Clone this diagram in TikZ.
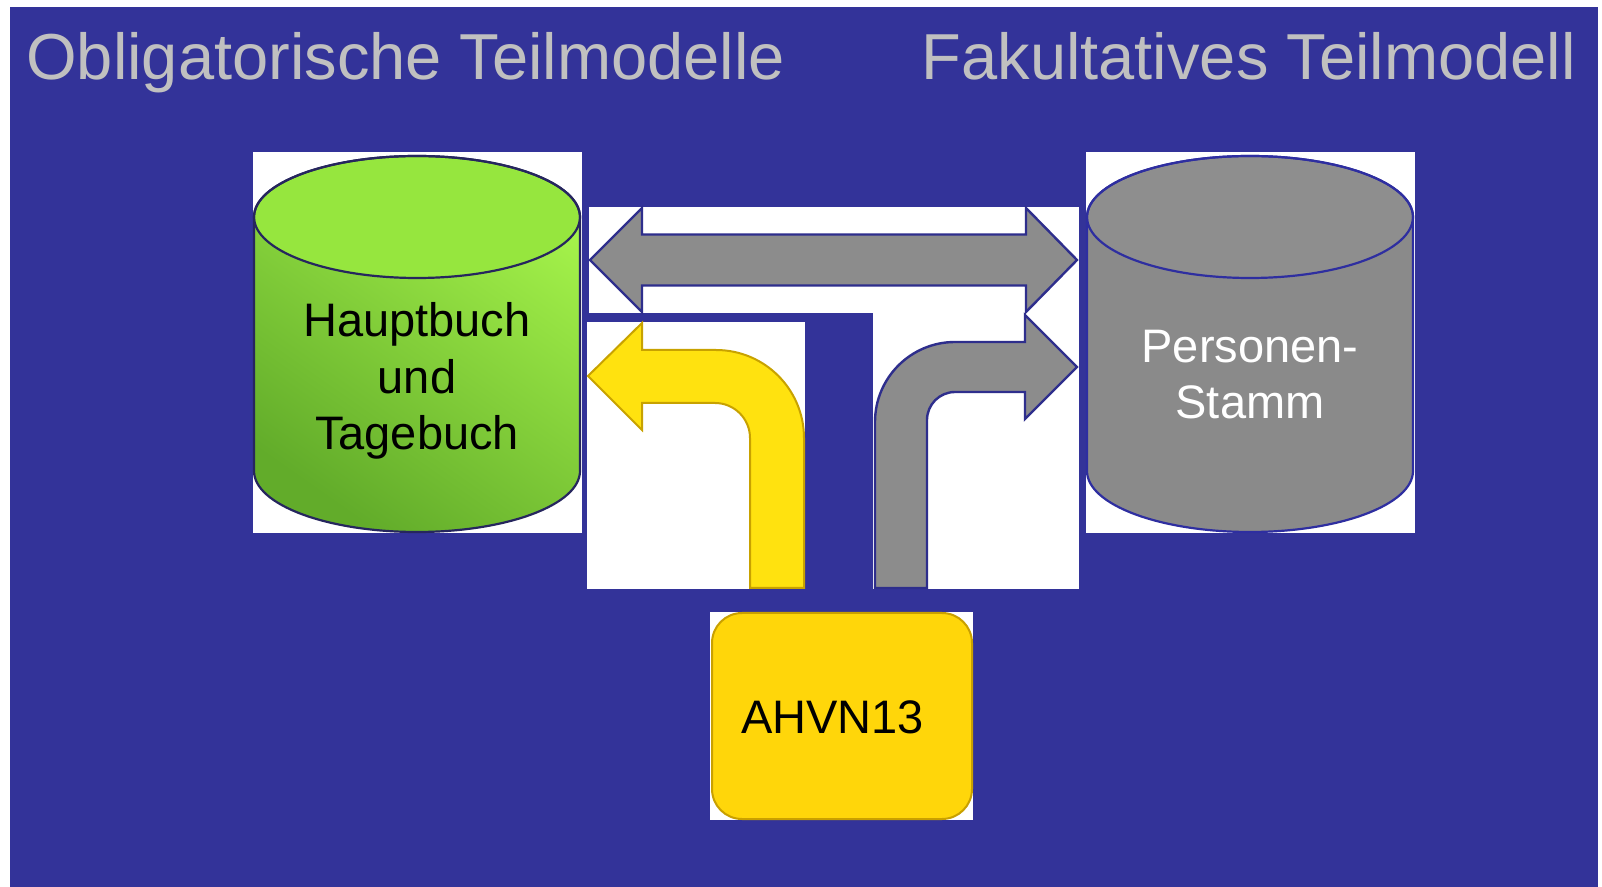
\documentclass[tikz,border=0pt]{standalone}
\usepackage{fontspec}
\setmainfont{Liberation Sans}
\definecolor{bgblue}{HTML}{333399}
\definecolor{titlegray}{HTML}{C0C0C0}
\definecolor{grnlight}{HTML}{A4F24A}
\definecolor{grndark}{HTML}{62AC2A}
\definecolor{grntop}{HTML}{96E63E}
\definecolor{grnline}{HTML}{26265E}
\definecolor{cylgray}{HTML}{8A8A8A}
\definecolor{cyltop}{HTML}{8E8E8E}
\definecolor{cylline}{HTML}{2E2EA0}
\definecolor{arrgray}{HTML}{8C8C8C}
\definecolor{arrline}{HTML}{2E2E8C}
\definecolor{arryel}{HTML}{FFE20F}
\definecolor{arryelline}{HTML}{C8A200}
\definecolor{boxyel}{HTML}{FFD60A}
\definecolor{boxline}{HTML}{C9A000}
\tikzset{
  titletext/.style={text=titlegray, font=\fontsize{32.5}{39}\selectfont, inner sep=0pt},
  cyltext/.style={font=\fontsize{23.5}{28.25}\selectfont, inner sep=0pt, align=center},
  whitebg/.style={fill=white},
  cylout/.style={line width=1.1pt},
  grayarrow/.style={fill=arrgray, draw=arrline, line width=1.2pt, line join=miter},
  yelarrow/.style={fill=arryel, draw=arryelline, line width=1pt, line join=miter},
}
\begin{document}
\begin{tikzpicture}[x=0.5pt,y=-0.5pt]
\useasboundingbox (0,0) rectangle (1602,887);
\fill[white] (0,0) rectangle (1602,887);
\fill[bgblue] (10,7) rectangle (1598,887);

% titles
\node[titletext, anchor=base west] (title1) at (26,80) {Obligatorische Teilmodelle};
\node[titletext, anchor=base east] (title2) at (1576,80) {Fakultatives Teilmodell};

% white picture backgrounds
\fill[whitebg] (253,152) rectangle (582,533);
\fill[whitebg] (1086,152) rectangle (1415,533);
\fill[whitebg] (589,207) rectangle (1079,313);
\fill[whitebg] (873,300) rectangle (1079,589);
\fill[whitebg] (587,322) rectangle (805,589);
\fill[whitebg] (710,612) rectangle (973,820);

% left cylinder (green)
\shade[top color=grnlight, bottom color=grndark, shading angle=-35]
  (254,217) -- (254,471) arc[start angle=180,end angle=360,x radius=81.5pt,y radius=30.5pt]
  -- (580,217) arc[start angle=0,end angle=180,x radius=81.5pt,y radius=30.5pt] -- cycle;
\fill[grntop] (417,217) ellipse[x radius=81.5pt, y radius=30.5pt];
\draw[cylout, grnline]
  (254,217) -- (254,471) arc[start angle=180,end angle=360,x radius=81.5pt,y radius=30.5pt]
  -- (580,217) arc[start angle=0,end angle=180,x radius=81.5pt,y radius=30.5pt] -- cycle;
\draw[cylout, grnline] (417,217) ellipse[x radius=81.5pt, y radius=30.5pt];
\node[cyltext, text=black] (hauptbuch) at (417,381) {Hauptbuch\\und\\Tagebuch};

% right cylinder (gray)
\fill[cylgray]
  (1087,217) -- (1087,471) arc[start angle=180,end angle=360,x radius=81.5pt,y radius=30.5pt]
  -- (1413,217) arc[start angle=0,end angle=180,x radius=81.5pt,y radius=30.5pt] -- cycle;
\fill[cyltop] (1250,217) ellipse[x radius=81.5pt, y radius=30.5pt];
\draw[cylout, cylline]
  (1087,217) -- (1087,471) arc[start angle=180,end angle=360,x radius=81.5pt,y radius=30.5pt]
  -- (1413,217) arc[start angle=0,end angle=180,x radius=81.5pt,y radius=30.5pt] -- cycle;
\draw[cylout, cylline] (1250,217) ellipse[x radius=81.5pt, y radius=30.5pt];
\node[cyltext, text=white] (personen) at (1250,374.5) {Personen-\\Stamm};

% double arrow
\path[grayarrow] (590,260) -- (642,208) -- (642,234.5) -- (1026,234.5) -- (1026,208)
  -- (1077,260) -- (1026,312) -- (1026,285.5) -- (642,285.5) -- (642,312) -- cycle;

% yellow bent arrow
\path[yelarrow] (588,376) -- (642,323) -- (642,350) -- (716,350)
  arc[start angle=90,end angle=0,radius=44pt] -- (804,588) -- (750,588) -- (750,438)
  arc[start angle=0,end angle=90,radius=17.5pt] -- (642,403) -- (642,430) -- cycle;

% gray bent arrow
\path[grayarrow] (875,588) -- (875,422) arc[start angle=180,end angle=90,radius=40pt]
  -- (1025,342) -- (1025,315) -- (1077,367) -- (1025,419) -- (1025,392) -- (955,392)
  arc[start angle=90,end angle=180,radius=14pt] -- (927,588) -- cycle;

% AHVN13 box
\path[fill=boxyel, draw=boxline, line width=1pt, rounded corners=15pt] (712,613) rectangle (972,819);
\node[font=\fontsize{23.5}{28}\selectfont, inner sep=0pt, text=black] (ahvn) at (832.5,717) {AHVN13};
\end{tikzpicture}
\end{document}
